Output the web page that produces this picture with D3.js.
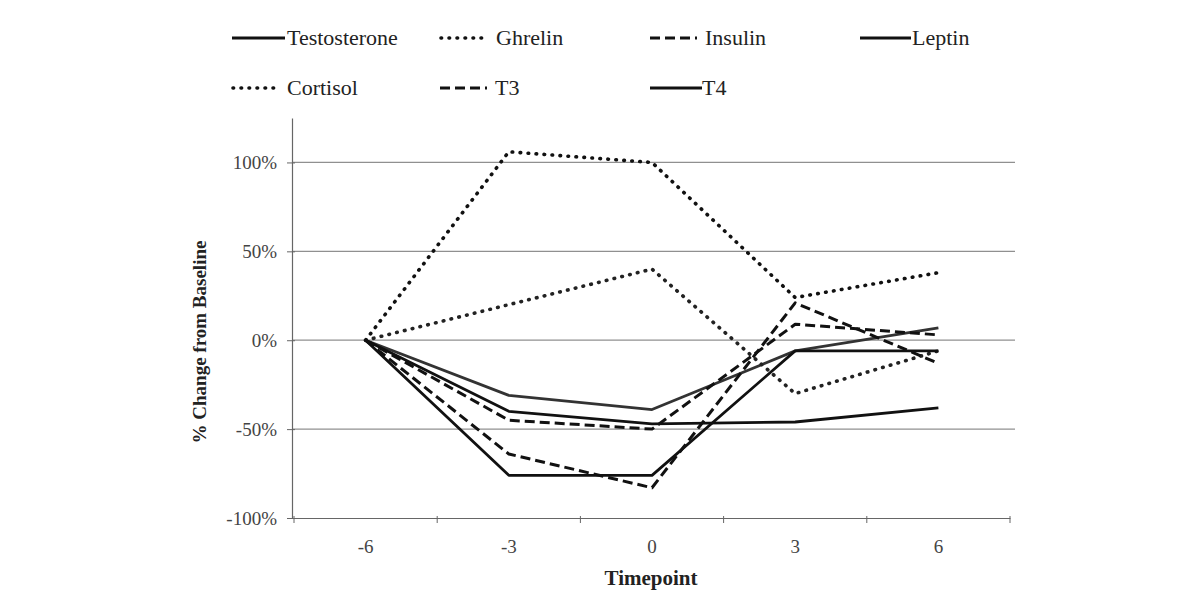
<!DOCTYPE html>
<html>
<head>
<meta charset="utf-8">
<script src="https://cdn.jsdelivr.net/npm/d3@7"></script>
<style>
  body { margin: 0; background: #fff; }
</style>
</head>
<body>
<div id="chart"></div>
<script>
// timepoints and % change from baseline
const timepoints = ["-6", "-3", "0", "3", "6"];
const testosterone = [0, -31, -39, -6, 7];
const ghrelin = [0, 20, 40, -30, -6];
const insulin = [0, -64, -83, 21, -13];
const leptin = [0, -40, -47, -46, -38];
const cortisol = [0, 106, 100, 24, 38];
const t3 = [0, -45, -50, 9, 3];
const t4 = [0, -76, -76, -6, -6];
const yTicks = [-100, -50, 0, 50, 100];

const series = [
    {name: "Testosterone", values: testosterone, style: "solid", color: "#333"},
    {name: "Ghrelin", values: ghrelin, style: "dotted", color: "#222"},
    {name: "Insulin", values: insulin, style: "dashed", color: "#111"},
    {name: "Leptin", values: leptin, style: "solid", color: "#111"},
    {name: "Cortisol", values: cortisol, style: "dotted", color: "#111"},
    {name: "T3", values: t3, style: "dashed", color: "#111"},
    {name: "T4", values: t4, style: "solid", color: "#111"}
];

const width = 1200;
const height = 600;
const serif = "'Liberation Serif', 'Times New Roman', serif";

const svg = d3.select("#chart")
    .append("svg")
    .attr("width", width)
    .attr("height", height);

const x = d3.scaleBand()
    .domain(timepoints)
    .range([294, 1010]);

const y = d3.scaleLinear()
    .domain([-100, 125])
    .range([518, 118]);

function applyStyle(sel, d) {
    if (d.style === "dotted") {
        sel.attr("stroke-width", 3.6)
            .attr("stroke-dasharray", "0.6 7.4")
            .attr("stroke-linecap", "round");
    } else if (d.style === "dashed") {
        sel.attr("stroke-width", 3)
            .attr("stroke-dasharray", "10 5")
            .attr("stroke-linecap", "butt");
    } else {
        sel.attr("stroke-width", 2.8);
    }
}

// gridlines
svg.append("g")
    .selectAll("line")
    .data(yTicks.filter(t => t !== -100))
    .join("line")
    .attr("x1", 292)
    .attr("x2", 1015)
    .attr("y1", d => y(d))
    .attr("y2", d => y(d))
    .attr("stroke", "#909090")
    .attr("stroke-width", 1.2);

// y axis
const yAxis = svg.append("g")
    .attr("transform", "translate(292,0)")
    .call(d3.axisLeft(y).tickValues(yTicks).tickSizeInner(5).tickSizeOuter(0).tickFormat(d => d + "%"));
yAxis.select(".domain").attr("stroke", "#666").attr("stroke-width", 1.2);
yAxis.selectAll(".tick line").attr("stroke", "#666").attr("x2", -5).attr("x1", 3);
yAxis.selectAll(".tick text")
    .attr("x", -15)
    .style("font-size", "19px")
    .style("fill", "#444")
    .style("font-family", serif);

// x axis
const xAxis = svg.append("g")
    .attr("transform", `translate(0,${y(-100)})`)
    .call(d3.axisBottom(x).tickSize(0).tickPadding(22));
xAxis.select(".domain").attr("stroke", "#666").attr("stroke-width", 1.2);
xAxis.selectAll(".tick text")
    .style("font-size", "19px")
    .style("fill", "#444")
    .style("font-family", serif);
// tick marks between categories
xAxis.append("g")
    .selectAll("line")
    .data(timepoints.concat(["end"]))
    .join("line")
    .attr("x1", (d, i) => x.range()[0] + i * x.step())
    .attr("x2", (d, i) => x.range()[0] + i * x.step())
    .attr("y1", -2)
    .attr("y2", 5)
    .attr("stroke", "#666");

// axis titles
svg.append("text")
    .attr("x", 651)
    .attr("y", 585)
    .attr("text-anchor", "middle")
    .style("font-size", "21px")
    .style("font-weight", "bold")
    .style("font-family", serif)
    .style("fill", "#222")
    .text("Timepoint");

svg.append("text")
    .attr("transform", "translate(206,342) rotate(-90)")
    .attr("text-anchor", "middle")
    .style("font-size", "19px")
    .style("font-weight", "bold")
    .style("font-family", serif)
    .style("fill", "#222")
    .text("% Change from Baseline");

// lines
const line = d3.line()
    .x((d, i) => x(timepoints[i]) + x.bandwidth() / 2)
    .y(d => y(d));

svg.append("g")
    .selectAll("path")
    .data(series)
    .join("path")
    .attr("fill", "none")
    .attr("stroke", d => d.color)
    .attr("stroke-linejoin", "round")
    .attr("d", d => line(d.values))
    .each(function (d) { applyStyle(d3.select(this), d); });

// legend
const legendPos = [
    {x1: 232, x2: 285, tx: 287, ty: 38},
    {x1: 441, x2: 487, tx: 496, ty: 38},
    {x1: 650, x2: 697, tx: 705, ty: 38},
    {x1: 860, x2: 911, tx: 912, ty: 38},
    {x1: 233, x2: 278, tx: 287, ty: 88},
    {x1: 440, x2: 487, tx: 495, ty: 88},
    {x1: 650, x2: 702, tx: 702, ty: 88}
];

const legend = svg.append("g")
    .selectAll("g")
    .data(series)
    .join("g");

legend.append("line")
    .attr("x1", (d, i) => legendPos[i].x1)
    .attr("x2", (d, i) => legendPos[i].x2)
    .attr("y1", (d, i) => legendPos[i].ty)
    .attr("y2", (d, i) => legendPos[i].ty)
    .attr("stroke", "#111")
    .each(function (d) { applyStyle(d3.select(this), d); });

legend.append("text")
    .attr("x", (d, i) => legendPos[i].tx)
    .attr("y", (d, i) => legendPos[i].ty + 7)
    .style("font-size", "22px")
    .style("font-family", serif)
    .style("fill", "#222")
    .text(d => d.name);
</script>
</body>
</html>
